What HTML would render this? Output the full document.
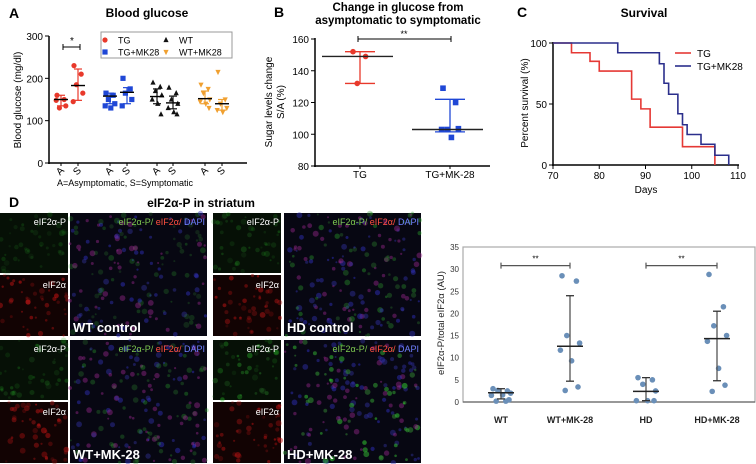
<!DOCTYPE html>
<html><head><meta charset="utf-8">
<style>
html,body{margin:0;padding:0;background:#fff;}
svg{display:block;font-family:"Liberation Sans",Arial,sans-serif;}
</style></head>
<body>
<svg id="fig" width="756" height="464" viewBox="0 0 756 464" xmlns="http://www.w3.org/2000/svg">
<g id="pA"></g>
<g id="pB"></g>
<g id="pC"></g>
<g id="pDimg"></g>
<g id="pD"></g>
</svg>
<script>
// ---------- Panel A data ----------
const aCategories = ["A","S","A","S","A","S","A","S"];
const aGroups = ["TG","TG","TG+MK28","TG+MK28","WT","WT","WT+MK28","WT+MK28"];
const aValues = [
  [160,150,130,135,148],
  [230,210,185,165,145],
  [165,160,150,140,135,130],
  [200,175,165,150,135],
  [190,180,170,160,150,140,115],
  [178,165,150,140,130,120,115],
  [185,175,165,150,145,140,130],
  [215,150,140,130,125,120]
];
const aMeans = [150,183,158,167,157,142,152,140];
const aErrLo = [135,148,140,140,140,128,140,125];
const aErrHi = [160,222,165,178,175,158,170,150];
const aTicks = [0,100,200,300];
// ---------- Panel B data ----------
const bCategories = ["TG","TG+MK-28"];
const bValues = [[152,149,132],[129,120,103,103.5,103,98]];
const bMeans = [149,103];
const bErrLo = [132,101.5];
const bErrHi = [152,122];
const bTicks = [80,100,120,140,160];
// ---------- Panel C data ----------
const cTGdays = [70,74,78,80,87,89,91,98,105];
const cTGsurv = [100,92,85,77,54,46,31,15,0];
const cMKdays = [70,84,93,94,95,97,98,99,102,105,108];
const cMKsurv = [100,92,83,67,58,42,33,25,17,8,0];
const cXTicks = [70,80,90,100,110];
const cYTicks = [0,50,100];
// ---------- Panel D data ----------
const dCategories = ["WT","WT+MK-28","HD","HD+MK-28"];
const dValues = [
  [3,2.5,2.6,2,1.5,1.6,0.5,0.2,0.2],
  [28.5,27.3,15,13.3,11.7,9.3,3.4,2.6],
  [5.5,5,4,2.5,0.3,0.3,0.3],
  [28.8,21.5,17.2,15,13.7,7.6,3.8,2.4]
];
const dMeans = [2.1,12.6,2.4,14.3];
const dErrLo = [0.7,4.7,0.3,4.8];
const dErrHi = [3,24,5.5,20.5];
const dTicks = [0,5,10,15,20,25,30,35];

const NS="http://www.w3.org/2000/svg";
function mk(parent,tag,attrs,name,text){
  const e=document.createElementNS(NS,tag);
  for(const k in attrs) e.setAttribute(k,attrs[k]);
  
  
  if(text!==undefined) e.textContent=text;
  parent.appendChild(e);return e;
}
function jit(i){const p=[-5,4,-2,6,-6,1,5,-3,3,-4];return p[i%p.length];}
function marker(g,shape,x,y,col,r,name){
  if(shape==="circle") return mk(g,"circle",{cx:x,cy:y,r:r,fill:col},name);
  if(shape==="square") return mk(g,"rect",{x:x-r,y:y-r,width:2*r,height:2*r,fill:col},name);
  if(shape==="tri") return mk(g,"polygon",{points:`${x},${y-r-0.5} ${x-r},${y+r-0.5} ${x+r},${y+r-0.5}`,fill:col},name);
  return mk(g,"polygon",{points:`${x-r},${y-r+0.5} ${x+r},${y-r+0.5} ${x},${y+r+0.5}`,fill:col},name);
}

// ================= Panel A =================
(function(){
  const g=document.getElementById('pA');
  const y=v=>163-(v/300)*127;
  const xs=[61,78,110,127,157,173,205,222];
  const cols={"TG":"#e8392b","TG+MK28":"#1f47d6","WT":"#111","WT+MK28":"#f0a030"};
  const shp={"TG":"circle","TG+MK28":"square","WT":"tri","WT+MK28":"down"};
  mk(g,"text",{x:9,y:18,"font-size":14,"font-weight":"bold"},"panel-label-a","A");
  mk(g,"text",{x:147,y:17,"font-size":12,"font-weight":"bold","text-anchor":"middle"},"chart-title-a","Blood glucose");
  mk(g,"line",{x1:49,y1:36,x2:49,y2:164,stroke:"#000","stroke-width":1.5},"y-axis-a");
  mk(g,"line",{x1:48,y1:163,x2:247,y2:163,stroke:"#000","stroke-width":1.5},"x-axis-a");
  aTicks.forEach(t=>{
    mk(g,"line",{x1:45,y1:y(t),x2:49,y2:y(t),stroke:"#000"},"y-tick-a");
    mk(g,"text",{x:43,y:y(t)+4,"font-size":10,"text-anchor":"end"},"y-tick-label-a",String(t));
  });
  mk(g,"text",{x:21,y:100,"font-size":10,"text-anchor":"middle",transform:"rotate(-90 21 100)"},"y-axis-title-a","Blood glucose (mg/dl)");
  aCategories.forEach((c,i)=>{
    const x=xs[i];
    mk(g,"line",{x1:x,y1:163,x2:x,y2:166,stroke:"#000"},"x-tick-a");
    mk(g,"text",{x:x,y:174,"font-size":10,"text-anchor":"middle",transform:`rotate(-45 ${x} 172)`},"x-tick-label-a",c);
    const col=cols[aGroups[i]];
    aValues[i].forEach((v,j)=>marker(g,shp[aGroups[i]],x+jit(j)*0.8,y(v),col,2.6,"point-a"));
    mk(g,"line",{x1:x,y1:y(aErrLo[i]),x2:x,y2:y(aErrHi[i]),stroke:col,"stroke-width":1.2},"error-bar-a");
    [aErrLo[i],aErrHi[i]].forEach(v=>mk(g,"line",{x1:x-4,y1:y(v),x2:x+4,y2:y(v),stroke:col,"stroke-width":1.2},"error-cap-a"));
    mk(g,"line",{x1:x-7,y1:y(aMeans[i]),x2:x+7,y2:y(aMeans[i]),stroke:"#000","stroke-width":1.4},"mean-line-a");
  });
  mk(g,"text",{x:125,y:186,"font-size":9,"text-anchor":"middle"},"x-axis-caption-a","A=Asymptomatic, S=Symptomatic");
  mk(g,"path",{d:"M63,44 V50 M63,47 H80 M80,44 V50",stroke:"#000",fill:"none"},"significance-bracket-a");
  mk(g,"text",{x:72,y:44,"font-size":10,"text-anchor":"middle"},"significance-star-a","*");
  const lg=mk(g,"g",{},"legend-a");
  mk(lg,"rect",{x:101,y:32,width:131,height:26,fill:"#fff",stroke:"#999"},"legend-box-a");
  const ents=[["TG",105,40],["TG+MK28",105,52],["WT",166,40],["WT+MK28",166,52]];
  ents.forEach(([n,x,yy])=>{
    marker(lg,shp[n],x,yy,cols[n],2.6,"legend-marker-a");
    mk(lg,"text",{x:x+(n.startsWith("WT")?13:13),y:yy+3.5,"font-size":9},"legend-entry-a",n);
  });
})();

// ================= Panel B =================
(function(){
  const g=document.getElementById('pB');
  const y=v=>166-(v-80)/80*127;
  const xs=[360,450];
  const cols=["#e8392b","#1f47d6"];
  mk(g,"text",{x:274,y:17,"font-size":14,"font-weight":"bold"},"panel-label-b","B");
  mk(g,"text",{x:398,y:11,"font-size":11.5,"font-weight":"bold","text-anchor":"middle"},"chart-title-b-line1","Change in glucose from");
  mk(g,"text",{x:398,y:24,"font-size":11.5,"font-weight":"bold","text-anchor":"middle"},"chart-title-b-line2","asymptomatic to symptomatic");
  mk(g,"line",{x1:315,y1:38,x2:315,y2:167,stroke:"#000","stroke-width":1.5},"y-axis-b");
  mk(g,"line",{x1:314,y1:166,x2:490,y2:166,stroke:"#000","stroke-width":1.5},"x-axis-b");
  bTicks.forEach(t=>{
    mk(g,"line",{x1:311,y1:y(t),x2:315,y2:y(t),stroke:"#000"},"y-tick-b");
    mk(g,"text",{x:309,y:y(t)+4,"font-size":10,"text-anchor":"end"},"y-tick-label-b",String(t));
  });
  mk(g,"text",{x:272,y:102,"font-size":10,"text-anchor":"middle",transform:"rotate(-90 272 102)"},"y-axis-title-b-line1","Sugar levels change");
  mk(g,"text",{x:284,y:102,"font-size":10,"text-anchor":"middle",transform:"rotate(-90 284 102)"},"y-axis-title-b-line2","S/A (%)");
  bCategories.forEach((c,i)=>{
    const x=xs[i];
    mk(g,"text",{x:x,y:178,"font-size":10,"text-anchor":"middle"},"x-tick-label-b",c);
    mk(g,"line",{x1:x,y1:166,x2:x,y2:169,stroke:"#000"},"x-tick-b");
    mk(g,"line",{x1:x,y1:y(bErrLo[i]),x2:x,y2:y(bErrHi[i]),stroke:cols[i],"stroke-width":1.3},"error-bar-b");
    [bErrLo[i],bErrHi[i]].forEach(v=>mk(g,"line",{x1:x-15,y1:y(v),x2:x+15,y2:y(v),stroke:cols[i],"stroke-width":1.3},"error-cap-b"));
    bValues[i].forEach((v,j)=>marker(g,i?"square":"circle",x+jit(j)*1.4,y(v),cols[i],2.8,"point-b"));
    mk(g,"line",{x1:x-38,y1:y(bMeans[i]),x2:x+33,y2:y(bMeans[i]),stroke:"#222","stroke-width":1.4},"mean-line-b");
  });
  mk(g,"path",{d:"M358,36 V42 M358,39 H451 M451,36 V42",stroke:"#000",fill:"none"},"significance-bracket-b");
  mk(g,"text",{x:404,y:37,"font-size":9,"text-anchor":"middle"},"significance-stars-b","**");
})();

// ================= Panel C =================
(function(){
  const g=document.getElementById('pC');
  const x=d=>553+(d-70)/40*185;
  const y=v=>165-v/100*122;
  mk(g,"text",{x:517,y:17,"font-size":14,"font-weight":"bold"},"panel-label-c","C");
  mk(g,"text",{x:644,y:17,"font-size":12,"font-weight":"bold","text-anchor":"middle"},"chart-title-c","Survival");
  mk(g,"line",{x1:553,y1:42,x2:553,y2:166,stroke:"#000","stroke-width":1.5},"y-axis-c");
  mk(g,"line",{x1:552,y1:165,x2:739,y2:165,stroke:"#000","stroke-width":1.5},"x-axis-c");
  cYTicks.forEach(t=>{
    mk(g,"line",{x1:549,y1:y(t),x2:553,y2:y(t),stroke:"#000"},"y-tick-c");
    mk(g,"text",{x:547,y:y(t)+4,"font-size":10,"text-anchor":"end"},"y-tick-label-c",String(t));
  });
  cXTicks.forEach(t=>{
    mk(g,"line",{x1:x(t),y1:165,x2:x(t),y2:169,stroke:"#000"},"x-tick-c");
    mk(g,"text",{x:x(t),y:179,"font-size":10,"text-anchor":"middle"},"x-tick-label-c",String(t));
  });
  mk(g,"text",{x:646,y:193,"font-size":10,"text-anchor":"middle"},"x-axis-title-c","Days");
  mk(g,"text",{x:528,y:103,"font-size":10,"text-anchor":"middle",transform:"rotate(-90 528 103)"},"y-axis-title-c","Percent survival (%)");
  function step(days,surv){
    let d=`M${x(days[0])},${y(surv[0])}`;
    for(let i=1;i<days.length;i++){d+=` H${x(days[i])} V${y(surv[i])}`;}
    return d;
  }
  mk(g,"path",{d:step(cTGdays,cTGsurv),stroke:"#e53935",fill:"none","stroke-width":1.6},"survival-line-tg");
  mk(g,"path",{d:step(cMKdays,cMKsurv),stroke:"#2b2f8c",fill:"none","stroke-width":1.6},"survival-line-tg-mk28");
  mk(g,"line",{x1:675,y1:53,x2:691,y2:53,stroke:"#e53935","stroke-width":1.6},"legend-line-tg");
  mk(g,"text",{x:697,y:57,"font-size":10},"legend-entry-tg","TG");
  mk(g,"line",{x1:675,y1:66,x2:691,y2:66,stroke:"#2b2f8c","stroke-width":1.6},"legend-line-tg-mk28");
  mk(g,"text",{x:697,y:70,"font-size":10},"legend-entry-tg-mk28","TG+MK28");
})();

// ================= Panel D micrographs =================
(function(){
  const g=document.getElementById('pDimg');
  mk(g,"text",{x:9,y:207,"font-size":14,"font-weight":"bold"},"panel-label-d","D");
  mk(g,"text",{x:201,y:207,"font-size":12,"font-weight":"bold","text-anchor":"middle"},"micrograph-title","eIF2α-P in striatum");
  let s=12345;const rnd=()=>{s=(s*16807)%2147483647;return s/2147483647;};
  function panel(x,y,w,h,kind,dens,name){
    const pg=mk(g,"g",{},name);
    mk(pg,"rect",{x:x,y:y,width:w,height:h,fill:kind==="green"?"#061006":kind==="red"?"#120303":"#070712"},name+"-bg");
    const n=Math.round(w*h/90);
    for(let i=0;i<n;i++){
      const cx=x+rnd()*w, cy=y+rnd()*h, r=1+rnd()*2;
      let col;
      if(kind==="green") col=`rgba(40,${110+rnd()*80|0},40,${0.12+dens*0.35*rnd()})`;
      else if(kind==="red") col=`rgba(${140+rnd()*80|0},20,20,${0.2+0.35*rnd()})`;
      else { const q=rnd(); col = q<0.4?`rgba(50,50,${150+rnd()*60|0},0.45)`: q<0.65?`rgba(150,40,140,0.45)`:`rgba(50,${120+rnd()*80|0},50,${0.15+dens*0.4})`; }
      mk(pg,"circle",{cx:cx.toFixed(1),cy:cy.toFixed(1),r:r.toFixed(1),fill:col},"cell");
    }
  }
  const sets=[
    {x:0,big:70,y:213,lab:"WT control",d:0.2},
    {x:213,big:284,y:213,lab:"HD control",d:0.5},
    {x:0,big:70,y:340,lab:"WT+MK-28",d:0.4},
    {x:213,big:284,y:340,lab:"HD+MK-28",d:1}
  ];
  sets.forEach((st,k)=>{
    const H=123, half=60;
    panel(st.x,st.y,68,half,"green",st.d,"green-channel-image");
    panel(st.x,st.y+half+2,68,H-half-2,"red",st.d,"red-channel-image");
    panel(st.big,st.y,137,H,"merge",st.d,"merged-image");
    mk(g,"text",{x:st.x+66,y:st.y+12,"font-size":9,fill:"#fff","text-anchor":"end"},"channel-label-green","eIF2α-P");
    mk(g,"text",{x:st.x+66,y:st.y+half+15,"font-size":9,fill:"#fff","text-anchor":"end"},"channel-label-red","eIF2α");
    const t=mk(g,"text",{x:st.big+135,y:st.y+12,"font-size":9,"text-anchor":"end"},"merge-label","");
    const a=document.createElementNS(NS,"tspan");a.setAttribute("fill","#7ec850");a.textContent="eIF2α-P/ ";t.appendChild(a);
    const b=document.createElementNS(NS,"tspan");b.setAttribute("fill","#ff5040");b.textContent="eIF2α/ ";t.appendChild(b);
    const c=document.createElementNS(NS,"tspan");c.setAttribute("fill","#7080ff");c.textContent="DAPI";t.appendChild(c);
    mk(g,"text",{x:st.big+3,y:st.y+H-4,"font-size":13,"font-weight":"bold",fill:"#fff"},"condition-label",st.lab);
  });
})();

// ================= Panel D chart =================
(function(){
  const g=document.getElementById('pD');
  const y=v=>402-v/35*155;
  const xs=[501,570,646,717];
  mk(g,"rect",{x:463,y:247,width:292,height:155,fill:"none",stroke:"#aaa","stroke-width":1.2},"plot-frame-d");
  mk(g,"line",{x1:463,y1:402,x2:755,y2:402,stroke:"#666","stroke-width":1.2},"x-axis-d");
  dTicks.forEach(t=>{
    mk(g,"text",{x:459,y:y(t)+3,"font-size":8,"text-anchor":"end",fill:"#333"},"y-tick-label-d",String(t));
  });
  mk(g,"text",{x:444,y:323,"font-size":9.5,"text-anchor":"middle",transform:"rotate(-90 444 323)",fill:"#222"},"y-axis-title-d","eIF2α-P/total eIF2α (AU)");
  dCategories.forEach((c,i)=>{
    const x=xs[i];
    mk(g,"text",{x:x,y:423,"font-size":9,"font-weight":"bold","text-anchor":"middle",fill:"#222"},"x-tick-label-d",c);
    dValues[i].forEach((v,j)=>mk(g,"circle",{cx:x+jit(j)*1.6,cy:y(v),r:2.8,fill:"#6a8fb8"},"point-d"));
    mk(g,"line",{x1:x,y1:y(dErrLo[i]),x2:x,y2:y(dErrHi[i]),stroke:"#555","stroke-width":1.3},"error-bar-d");
    [dErrLo[i],dErrHi[i]].forEach(v=>mk(g,"line",{x1:x-4,y1:y(v),x2:x+4,y2:y(v),stroke:"#333","stroke-width":1.3},"error-cap-d"));
    mk(g,"line",{x1:x-13,y1:y(dMeans[i]),x2:x+13,y2:y(dMeans[i]),stroke:"#222","stroke-width":1.5},"mean-line-d");
  });
  [[0,1],[2,3]].forEach(([a,b])=>{
    const yy=y(30.8);
    mk(g,"path",{d:`M${xs[a]},${yy-3} V${yy+3} M${xs[a]},${yy} H${xs[b]} M${xs[b]},${yy-3} V${yy+3}`,stroke:"#555",fill:"none","stroke-width":1.2},"significance-bracket-d");
    mk(g,"text",{x:(xs[a]+xs[b])/2,y:yy-4,"font-size":8,"text-anchor":"middle"},"significance-stars-d","**");
  });
})();
</script>
</body></html>
